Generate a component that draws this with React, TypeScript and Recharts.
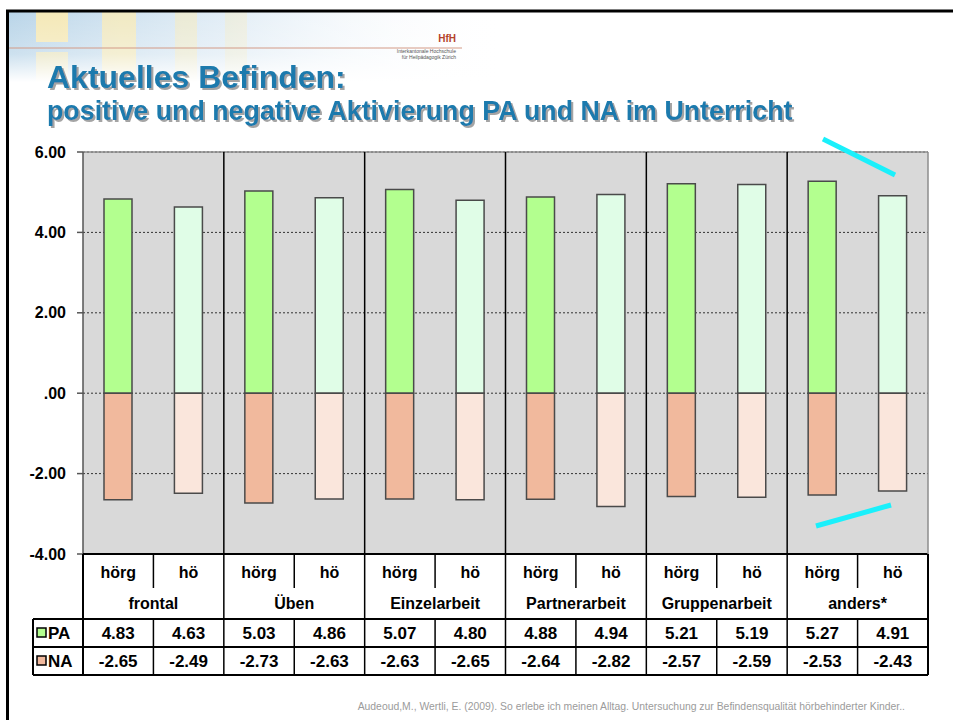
import * as React from "react";
import {
  Bar,
  BarChart,
  CartesianGrid,
  Cell,
  ReferenceLine,
  XAxis,
  YAxis,
} from "recharts";

const GROUPS = ["frontal", "Üben", "Einzelarbeit", "Partnerarbeit", "Gruppenarbeit", "anders*"];
const SUBS = ["hörg", "hö"];
const PA_HOERG = [4.83, 5.03, 5.07, 4.88, 5.21, 5.27];
const PA_HOE = [4.63, 4.86, 4.8, 4.94, 5.19, 4.91];
const NA_HOERG = [-2.65, -2.73, -2.63, -2.64, -2.57, -2.53];
const NA_HOE = [-2.49, -2.63, -2.65, -2.82, -2.59, -2.43];
const Y_TICKS = [-4, -2, 0, 2, 4, 6];

const FONT = "'Liberation Sans', Arial, sans-serif";
const BLUE = "#1a7aad";

// fills: [hörg, hö]
const PA_FILLS = ["#b3ff8f", "#e0fde7"];
const NA_FILLS = ["#f1b99d", "#fae6dc"];

// layout
const W = 953;
const H = 700;
const M = { top: 152, right: 25, left: 0, bottom: 25 };
const Y_AXIS_W = 83;
const X_AXIS_H = 121;
const PLOT_LEFT = M.left + Y_AXIS_W;
const PLOT_W = W - M.right - PLOT_LEFT;
const PLOT_TOP = M.top;
const LEGEND_LEFT = 33;

const data = GROUPS.flatMap((group, g) => [
  { key: `${group}|${SUBS[0]}`, group, sub: 0, pa: PA_HOERG[g], na: NA_HOERG[g] },
  { key: `${group}|${SUBS[1]}`, group, sub: 1, pa: PA_HOE[g], na: NA_HOE[g] },
]);

function TableTick(props: any) {
  const { x, y, index } = props;
  const row = data[index];
  if (!row) return null;
  const bw = PLOT_W / data.length;
  const left = x - bw / 2;
  const right = x + bw / 2;
  const rowSub = y + 18;
  const rowGroup = y + 49;
  const rowPA = y + 65;
  const rowNA = y + 93;
  const bottom = y + 121;
  const txt = { fontFamily: FONT, fontWeight: 700, fontSize: 16, fill: "#000" };
  return (
    <g>
      {row.sub === 0 && index > 0 && (
        <line x1={left} x2={left} y1={PLOT_TOP} y2={bottom} stroke="#000" strokeWidth={1.5} />
      )}
      {index === 0 && (
        <>
          <line x1={left} x2={left} y1={y} y2={bottom} stroke="#000" strokeWidth={2} />
          <line x1={LEGEND_LEFT} x2={PLOT_LEFT + PLOT_W} y1={rowPA} y2={rowPA} stroke="#000" strokeWidth={2} />
          <line x1={LEGEND_LEFT} x2={PLOT_LEFT + PLOT_W} y1={rowNA} y2={rowNA} stroke="#000" strokeWidth={2} />
          <line x1={LEGEND_LEFT} x2={PLOT_LEFT + PLOT_W} y1={bottom} y2={bottom} stroke="#000" strokeWidth={2} />
          <line x1={LEGEND_LEFT} x2={LEGEND_LEFT} y1={rowPA} y2={bottom} stroke="#000" strokeWidth={2} />
          <rect x={LEGEND_LEFT + 4} y={rowPA + 9} width={9} height={9} fill={PA_FILLS[0]} stroke="#000" strokeWidth={1.5} />
          <text x={LEGEND_LEFT + 15} y={rowPA + 14} dominantBaseline="central" {...txt} fontSize={17}>PA</text>
          <rect x={LEGEND_LEFT + 4} y={rowNA + 9} width={9} height={9} fill={NA_FILLS[0]} stroke="#000" strokeWidth={1.5} />
          <text x={LEGEND_LEFT + 15} y={rowNA + 14} dominantBaseline="central" {...txt} fontSize={17}>NA</text>
        </>
      )}
      {row.sub === 1 && (
        <>
          <line x1={left} x2={left} y1={y} y2={y + 34} stroke="#000" strokeWidth={1.5} />
          <line x1={left} x2={left} y1={rowPA} y2={bottom} stroke="#000" strokeWidth={1.5} />
        </>
      )}
      {index === data.length - 1 && (
        <>
          <line x1={right} x2={right} y1={PLOT_TOP} y2={y} stroke="#8c8c8c" strokeWidth={1.5} />
          <line x1={right} x2={right} y1={y} y2={bottom} stroke="#000" strokeWidth={2} />
        </>
      )}
      <text x={x} y={rowSub} textAnchor="middle" dominantBaseline="central" {...txt}>
        {SUBS[row.sub]}
      </text>
      {row.sub === 0 && (
        <text x={right} y={rowGroup} textAnchor="middle" dominantBaseline="central" {...txt}>
          {row.group}
        </text>
      )}
      <text x={x} y={rowPA + 14} textAnchor="middle" dominantBaseline="central" {...txt} fontSize={17}>
        {row.pa.toFixed(2)}
      </text>
      <text x={x} y={rowNA + 14} textAnchor="middle" dominantBaseline="central" {...txt} fontSize={17}>
        {row.na.toFixed(2)}
      </text>
    </g>
  );
}

function Backdrop() {
  return (
    <svg width={W} height={720} style={{ position: "absolute", left: 0, top: 0 }}>
      <defs>
        <linearGradient id="fadeX" x1="0" x2="1" y1="0" y2="0">
          <stop offset="0" stopColor="#a9cbe3" stopOpacity={0.9} />
          <stop offset="0.45" stopColor="#c6dced" stopOpacity={0.55} />
          <stop offset="1" stopColor="#ffffff" stopOpacity={0} />
        </linearGradient>
        <linearGradient id="fadeY" x1="0" x2="0" y1="0" y2="1">
          <stop offset="0" stopColor="#ffffff" stopOpacity={0.1} />
          <stop offset="0.6" stopColor="#ffffff" stopOpacity={0.35} />
          <stop offset="1" stopColor="#ffffff" stopOpacity={1} />
        </linearGradient>
        <filter id="shadow" x="-5%" y="-20%" width="110%" height="150%">
          <feDropShadow dx={2} dy={2} stdDeviation={0.6} floodColor="#9a9a9a" floodOpacity={0.9} />
        </filter>
      </defs>
      <rect x={8} y={12} width={500} height={70} fill="url(#fadeX)" />
      <rect x={36} y={12} width={32} height={30} fill="#fde9a6" opacity={0.85} />
      <rect x={36} y={52} width={32} height={30} fill="#fde9a6" opacity={0.65} />
      <rect x={102} y={12} width={34} height={70} fill="#fde9a6" opacity={0.7} />
      <rect x={175} y={12} width={22} height={70} fill="#fde9a6" opacity={0.45} />
      <rect x={225} y={12} width={22} height={70} fill="#fde9a6" opacity={0.3} />
      <rect x={8} y={12} width={500} height={70} fill="url(#fadeY)" />
      <line x1={8} x2={462} y1={48} y2={48} stroke="#d39a86" strokeWidth={1} />
      <text x={456} y={42} textAnchor="end" fontFamily={FONT} fontWeight={700} fontSize={10} fill="#b4432a">HfH</text>
      <text x={456} y={53} textAnchor="end" fontFamily={FONT} fontSize={5} fill="#555">Interkantonale Hochschule</text>
      <text x={456} y={59} textAnchor="end" fontFamily={FONT} fontSize={5} fill="#555">für Heilpädagogik Zürich</text>

      <line x1={6} x2={W} y1={11} y2={11} stroke="#000" strokeWidth={3} />
      <line x1={7.5} x2={7.5} y1={10} y2={720} stroke="#000" strokeWidth={3} />

      <g fontFamily={FONT} fontWeight={700} fill={BLUE} filter="url(#shadow)">
        <text x={47} y={88} fontSize={32}>Aktuelles Befinden:</text>
        <text x={47} y={120} fontSize={26.8}>positive und negative Aktivierung PA und NA im Unterricht</text>
      </g>

      <text x={905} y={710} textAnchor="end" fontFamily={FONT} fontSize={10.4} fill="#9b9b9b">
        Audeoud,M., Wertli, E. (2009). So erlebe ich meinen Alltag. Untersuchung zur Befindensqualität hörbehinderter Kinder..
      </text>
    </svg>
  );
}

function Marks() {
  return (
    <svg width={W} height={720} style={{ position: "absolute", left: 0, top: 0, pointerEvents: "none" }}>
      <line x1={823} y1={139} x2={895} y2={175} stroke="#1af0fb" strokeWidth={5} />
      <line x1={816} y1={526} x2={891} y2={505} stroke="#1af0fb" strokeWidth={5} />
    </svg>
  );
}

export default function App() {
  return (
    <div style={{ position: "absolute", left: 0, top: 0, width: W, height: 720, background: "#fff", overflow: "hidden" }}>
      <Backdrop />
      <div style={{ position: "absolute", left: 0, top: 0 }}>
        <BarChart width={W} height={H} data={data} margin={M} stackOffset="sign" barSize={28}>
          <CartesianGrid
            vertical={false}
            fill="#d9d9d9"
            fillOpacity={1}
            stroke="#333"
            strokeDasharray="2 2"
          />
          <ReferenceLine y={6} stroke="#8c8c8c" strokeWidth={1.5} />
          <YAxis
            width={Y_AXIS_W}
            domain={[-4, 6]}
            ticks={Y_TICKS}
            interval={0}
            tickFormatter={(v: number) => (v === 0 ? ".00" : v.toFixed(2))}
            tickSize={6}
            tickMargin={11}
            axisLine={{ stroke: "#555", strokeWidth: 1.5 }}
            tickLine={{ stroke: "#555", strokeWidth: 1.5 }}
            tick={{ fontFamily: FONT, fontWeight: 700, fontSize: 16, fill: "#000" }}
          />
          <XAxis
            dataKey="key"
            height={X_AXIS_H}
            interval={0}
            tickSize={0}
            tickMargin={0}
            tickLine={false}
            axisLine={{ stroke: "#000", strokeWidth: 2 }}
            tick={<TableTick />}
          />
          <Bar dataKey="pa" stackId="a" stroke="#4a4a4a" strokeWidth={1.5} isAnimationActive={false}>
            {data.map((d) => (
              <Cell key={d.key} fill={PA_FILLS[d.sub]} />
            ))}
          </Bar>
          <Bar dataKey="na" stackId="a" stroke="#4a4a4a" strokeWidth={1.5} isAnimationActive={false}>
            {data.map((d) => (
              <Cell key={d.key} fill={NA_FILLS[d.sub]} />
            ))}
          </Bar>
        </BarChart>
      </div>
      <Marks />
    </div>
  );
}
